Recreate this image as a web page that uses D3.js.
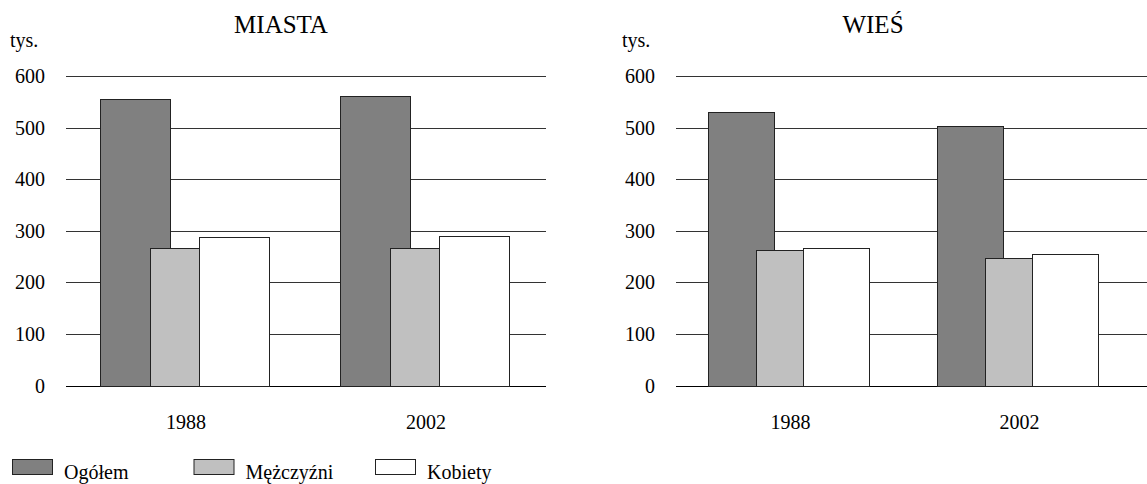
<!DOCTYPE html>
<meta charset="utf-8">
<html>
<head>
<style>
  body { margin: 0; background: #fff; }
</style>
</head>
<body>
<svg width="1147" height="484" id="chart"></svg>
<script src="https://d3js.org/d3.v7.min.js"></script>
<script>
// data (tys.)
var years = ["1988", "2002"];
var series = ["Ogółem", "Mężczyźni", "Kobiety"];
var colors = ["#808080", "#c0c0c0", "#ffffff"];
var yTicks = [0, 100, 200, 300, 400, 500, 600];

var miastaOgolem = [555, 561];
var miastaMezczyzni = [267, 267];
var miastaKobiety = [287, 290];

var wiesOgolem = [531, 504];
var wiesMezczyzni = [263, 248];
var wiesKobiety = [267, 255];

var panels = [
  { title: "MIASTA", values: [miastaOgolem, miastaMezczyzni, miastaKobiety],
    x0: 66, x1: 546, gridEnd: 546, tickX: 45, tysX: 10, titleX: 281 },
  { title: "WIEŚ", values: [wiesOgolem, wiesMezczyzni, wiesKobiety],
    x0: 676, x1: 1134, gridEnd: 1147, tickX: 655, tysX: 622, titleX: 873 }
];

var font = "'Liberation Serif', 'Times New Roman', serif";
var svg = d3.select("#chart").attr("font-family", font);
var y = d3.scaleLinear().domain([0, 600]).range([385.5, 76]);

panels.forEach(function (p) {
  var g = svg.append("g");
  var x = d3.scaleBand().domain(years).range([p.x0, p.x1]);
  var bw = x.bandwidth() * 0.29,      // bar width
      step = x.bandwidth() * 0.207,   // bars overlap like in excel
      off = x.bandwidth() * 0.141;
  var s = d3.scalePoint().domain(series).range([0, 2 * step]);

  // gridlines
  g.selectAll(".grid")
    .data(yTicks)
    .enter().append("line")
    .attr("x1", p.x0).attr("x2", p.gridEnd)
    .attr("y1", function (d) { return Math.round(y(d)) + 0.5; })
    .attr("y2", function (d) { return Math.round(y(d)) + 0.5; })
    .attr("stroke", function (d) { return d === 0 ? "#000" : "#333"; })
    .attr("stroke-width", 1);

  // tick labels
  g.selectAll(".tick")
    .data(yTicks)
    .enter().append("text")
    .attr("x", p.tickX)
    .attr("y", function (d) { return y(d); })
    .attr("dy", "0.35em")
    .attr("text-anchor", "end")
    .style("font-size", "20px")
    .text(function (d) { return d; });

  g.append("text").attr("x", p.tysX).attr("y", 47)
    .style("font-size", "20px").text("tys.");
  g.append("text").attr("x", p.titleX).attr("y", 33)
    .attr("text-anchor", "middle")
    .style("font-size", "25px").text(p.title);

  // bars
  series.forEach(function (name, i) {
    g.selectAll(".bar" + i)
      .data(years)
      .enter().append("rect")
      .attr("x", function (d) { return Math.round(x(d) + off + s(name)) + 0.5; })
      .attr("y", function (d, j) { return Math.round(y(p.values[i][j])) + 0.5; })
      .attr("width", Math.round(bw))
      .attr("height", function (d, j) { return Math.round(y(0)) - Math.round(y(p.values[i][j])); })
      .attr("fill", colors[i])
      .attr("stroke", "#222")
      .attr("stroke-width", 1);
  });

  // category labels
  g.selectAll(".cat")
    .data(years)
    .enter().append("text")
    .attr("x", function (d) { return x(d) + x.bandwidth() / 2; })
    .attr("y", 429)
    .attr("text-anchor", "middle")
    .style("font-size", "20px")
    .text(function (d) { return d; });
});

// legend
var legend = svg.selectAll(".legend")
  .data(series)
  .enter().append("g")
  .attr("transform", function (d, i) { return "translate(" + (12 + i * 181.5) + ",0)"; });

legend.append("rect")
  .attr("x", 0.5).attr("y", 459.5)
  .attr("width", 40).attr("height", 15)
  .attr("fill", function (d, i) { return colors[i]; })
  .attr("stroke", "#222");

legend.append("text")
  .attr("x", 52).attr("y", 479)
  .style("font-size", "20px")
  .text(function (d) { return d; });
</script>
</body>
</html>
